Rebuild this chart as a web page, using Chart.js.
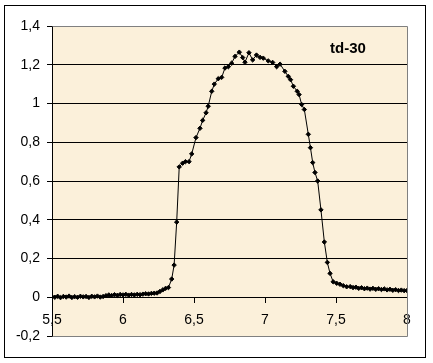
<!DOCTYPE html>
<html>
<head>
<meta charset="utf-8">
<script src="https://cdn.jsdelivr.net/npm/chart.js@4"></script>
<style>
  html, body { margin: 0; padding: 0; background: #fff; }
  #grafico { display: block; }
</style>
</head>
<body>
<canvas id="grafico" width="433" height="363"></canvas>
<script>
const valoresX = [
    5.50, 5.52, 5.54, 5.56, 5.58, 5.60, 5.62, 5.64, 5.66, 5.68,
    5.70, 5.72, 5.74, 5.76, 5.78, 5.80, 5.82, 5.84, 5.86, 5.88,
    5.90, 5.92, 5.94, 5.96, 5.98, 6.00, 6.02, 6.04, 6.06, 6.08,
    6.10, 6.12, 6.14, 6.16, 6.18, 6.20, 6.22, 6.24, 6.26, 6.28,
    6.30, 6.32, 6.343, 6.36, 6.378, 6.396, 6.42, 6.44, 6.465, 6.484,
    6.514, 6.542, 6.561, 6.585, 6.60, 6.625, 6.643, 6.671, 6.695, 6.718,
    6.742, 6.765, 6.789, 6.819, 6.843, 6.859, 6.887, 6.913, 6.94, 6.965,
    6.988, 7.023, 7.054, 7.082, 7.106, 7.14, 7.164, 7.18, 7.20, 7.227,
    7.24, 7.258, 7.277, 7.305, 7.32, 7.336, 7.352, 7.371, 7.394, 7.418,
    7.439, 7.458, 7.48, 7.505, 7.528, 7.551, 7.575, 7.60, 7.62, 7.64,
    7.66, 7.68, 7.70, 7.72, 7.74, 7.76, 7.78, 7.80, 7.82, 7.84,
    7.86, 7.88, 7.90, 7.92, 7.94, 7.96, 7.98, 8.00
];
const valoresY = [
    0.003, 0.000, 0.005, -0.002, 0.004, 0.001, 0.006, -0.001, 0.003, 0.000,
    0.005, 0.002, 0.004, -0.001, 0.005, 0.002, 0.006, 0.001, 0.004, 0.008,
    0.012, 0.009, 0.013, 0.010, 0.014, 0.012, 0.015, 0.011, 0.014, 0.012,
    0.015, 0.013, 0.016, 0.018, 0.017, 0.020, 0.021, 0.022, 0.030, 0.038,
    0.046, 0.050, 0.094, 0.166, 0.388, 0.673, 0.692, 0.700, 0.700, 0.740,
    0.824, 0.872, 0.913, 0.952, 0.986, 1.063, 1.100, 1.128, 1.135, 1.183,
    1.190, 1.208, 1.243, 1.265, 1.237, 1.213, 1.262, 1.225, 1.250, 1.238,
    1.234, 1.220, 1.212, 1.190, 1.203, 1.166, 1.140, 1.123, 1.089, 1.063,
    1.046, 0.995, 0.969, 0.841, 0.772, 0.695, 0.644, 0.600, 0.451, 0.285,
    0.180, 0.123, 0.080, 0.072, 0.067, 0.060, 0.054, 0.055, 0.050, 0.052,
    0.046, 0.049, 0.044, 0.047, 0.042, 0.046, 0.041, 0.044, 0.040, 0.043,
    0.038, 0.041, 0.036, 0.039, 0.035, 0.037, 0.034, 0.035
];
const rangoX = [5.5, 8];
const rangoY = [-0.2, 1.4];
const etiquetaSerie = 'td-30';

const fuente = "'Liberation Sans', Arial, sans-serif";

// Formato con coma decimal
function conComa(v) {
    return String(Math.round(v * 10) / 10).replace('.', ',');
}

// Fondo del área de trazado, bordes y rótulo
const decorado = {
    id: 'decorado',
    beforeDraw(chart) {
        const { ctx, chartArea: a } = chart;
        ctx.save();
        ctx.fillStyle = '#fbf0da';
        ctx.fillRect(a.left, a.top, a.right - a.left, a.bottom - a.top);
        ctx.restore();
    },
    afterDraw(chart) {
        const { ctx, chartArea: a } = chart;
        ctx.save();
        ctx.strokeStyle = '#808080';
        ctx.lineWidth = 1;
        ctx.beginPath();
        ctx.moveTo(Math.round(a.left) + 0.5, Math.round(a.top) + 0.5);
        ctx.lineTo(Math.round(a.right) + 0.5, Math.round(a.top) + 0.5);
        ctx.lineTo(Math.round(a.right) + 0.5, Math.round(a.bottom) + 0.5);
        ctx.lineTo(Math.round(a.left) + 0.5, Math.round(a.bottom) + 0.5);
        ctx.stroke();

        ctx.strokeStyle = '#000';
        ctx.strokeRect(4.5, 5.5, 421, 352);

        ctx.fillStyle = '#000';
        ctx.font = 'bold 15px ' + fuente;
        ctx.textBaseline = 'alphabetic';
        ctx.fillText(etiquetaSerie, 330, 53);
        ctx.restore();
    }
};

function inicializarGrafico() {
    const puntos = valoresX.map((x, i) => ({ x: x, y: valoresY[i] }));
    const ctx = document.getElementById('grafico').getContext('2d');
    new Chart(ctx, {
        type: 'scatter',
        data: {
            datasets: [{
                label: etiquetaSerie,
                data: puntos,
                showLine: true,
                borderColor: '#000',
                borderWidth: 1,
                pointStyle: 'rectRot',
                pointRadius: 2.2,
                pointBackgroundColor: '#000',
                pointBorderColor: '#000',
                pointBorderWidth: 1
            }]
        },
        options: {
            responsive: false,
            animation: false,
            layout: {
                padding: { left: 0, top: 26, right: 26, bottom: 27 }
            },
            plugins: {
                legend: { display: false },
                tooltip: { enabled: false },
                title: { display: false }
            },
            scales: {
                x: {
                    type: 'linear',
                    position: { y: 0 },
                    min: rangoX[0],
                    max: rangoX[1],
                    afterFit(scale) { scale.height = 0; },
                    ticks: {
                        stepSize: 0.5,
                        color: '#000',
                        padding: 9,
                        maxRotation: 0,
                        autoSkip: false,
                        font: { family: fuente, size: 14 },
                        callback: conComa
                    },
                    grid: {
                        drawOnChartArea: false,
                        drawTicks: true,
                        tickLength: 5,
                        tickColor: '#000'
                    },
                    border: { display: true, color: '#000', width: 1 }
                },
                y: {
                    min: rangoY[0],
                    max: rangoY[1],
                    afterFit(scale) { scale.width = 52; },
                    ticks: {
                        stepSize: 0.2,
                        color: '#000',
                        padding: 7,
                        font: { family: fuente, size: 14 },
                        callback: conComa
                    },
                    grid: {
                        color: c => (c.tick && (c.tick.value >= 1.39 || c.tick.value <= -0.19)) ? 'rgba(0,0,0,0)' : '#000',
                        tickColor: '#000',
                        tickLength: 5,
                        lineWidth: 1
                    },
                    border: { display: true, color: '#000', width: 1 }
                }
            }
        },
        plugins: [decorado]
    });
}

document.addEventListener('DOMContentLoaded', inicializarGrafico);
</script>
</body>
</html>
